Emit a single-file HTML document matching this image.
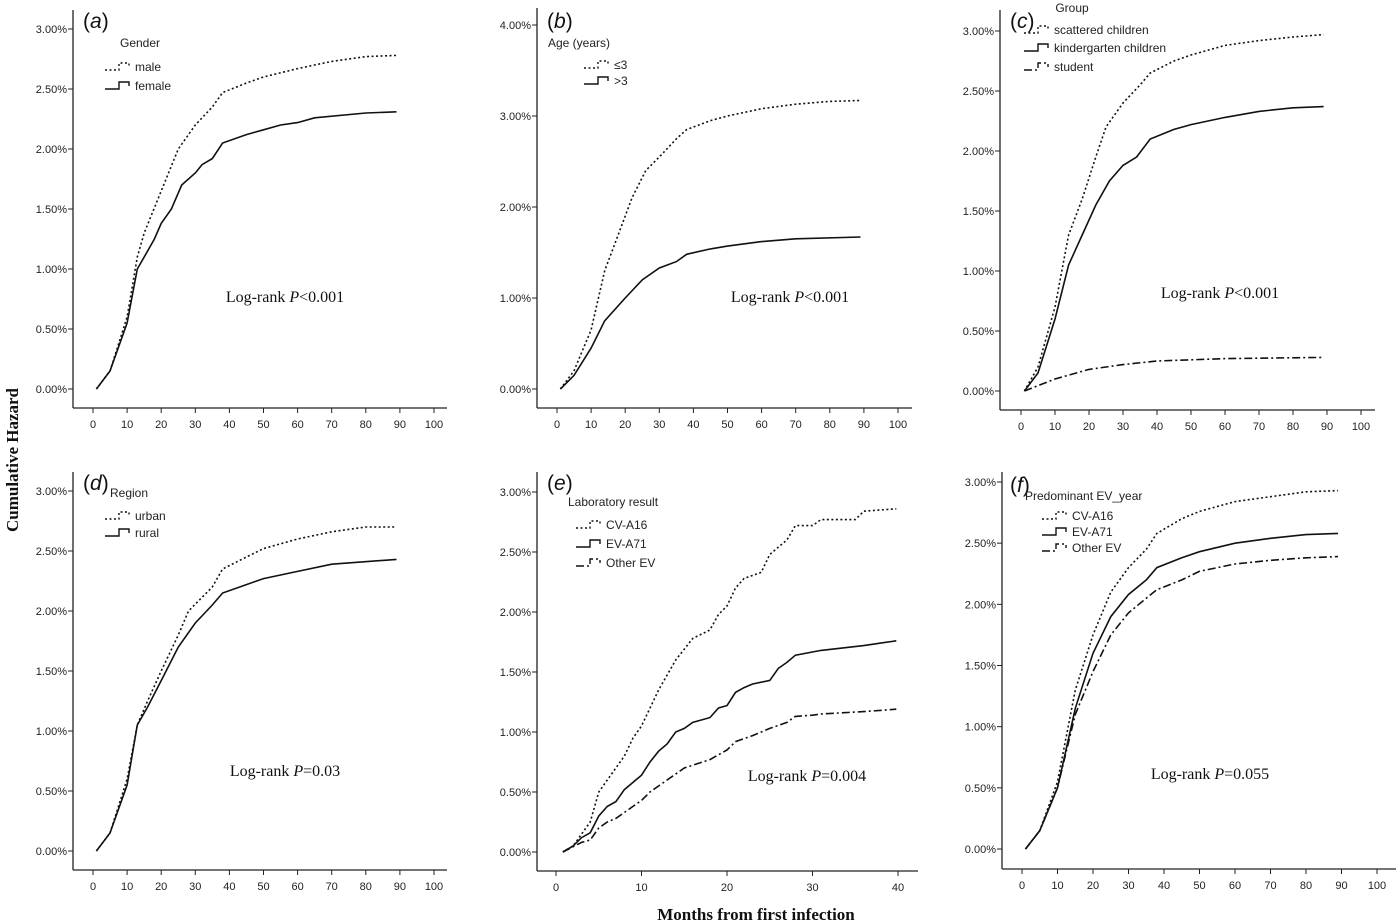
<!DOCTYPE html>
<html><head><meta charset="utf-8">
<style>
body{margin:0;background:#fff;}
svg{display:block;}
.tk{font-family:"Liberation Sans",sans-serif;font-size:11px;fill:#222;}
.lg{font-family:"Liberation Sans",sans-serif;font-size:12px;fill:#222;}
.lr{font-family:"Liberation Serif",serif;font-size:16px;fill:#111;}
.pl{font-family:"Liberation Sans",sans-serif;font-size:21px;fill:#111;}
.ttl{font-family:"Liberation Serif",serif;font-size:17px;font-weight:bold;fill:#111;}
</style></head>
<body>
<svg id="chart" width="1400" height="922" viewBox="0 0 1400 922">
<text class="ttl" x="756" y="920" text-anchor="middle">Months from first infection</text>
<text class="ttl" transform="translate(18,460) rotate(-90)" text-anchor="middle">Cumulative Hazard</text>
</svg>
<script>
// ---- data (x = months, y = cumulative hazard %) ----
const aMaleX=[1,5,10,13,15,20,25,30,35,38,45,50,60,70,80,89];
const aMaleY=[0,0.15,0.6,1.1,1.3,1.65,2.0,2.2,2.35,2.47,2.55,2.6,2.67,2.73,2.77,2.78];
const aFemaleX=[1,5,10,13,15,18,20,23,26,30,32,35,38,45,50,55,60,65,80,89];
const aFemaleY=[0,0.15,0.55,1.0,1.1,1.25,1.38,1.5,1.7,1.8,1.87,1.92,2.05,2.12,2.16,2.2,2.22,2.26,2.3,2.31];
const bLe3X=[1,5,10,14,18,22,26,30,35,38,45,50,60,70,80,89];
const bLe3Y=[0,0.2,0.65,1.3,1.7,2.1,2.4,2.55,2.75,2.85,2.95,3.0,3.08,3.13,3.16,3.17];
const bGt3X=[1,5,10,14,20,25,30,35,38,45,50,60,70,89];
const bGt3Y=[0,0.15,0.45,0.75,1.0,1.2,1.33,1.4,1.48,1.54,1.57,1.62,1.65,1.67];
const cScatX=[1,5,10,14,18,22,25,30,35,38,45,50,60,70,80,89];
const cScatY=[0,0.2,0.7,1.3,1.6,1.95,2.2,2.4,2.55,2.65,2.75,2.8,2.88,2.92,2.95,2.97];
const cKindX=[1,5,10,14,18,22,26,30,34,38,45,50,60,70,80,89];
const cKindY=[0,0.15,0.6,1.05,1.3,1.55,1.75,1.88,1.95,2.1,2.18,2.22,2.28,2.33,2.36,2.37];
const cStudX=[1,10,20,30,40,60,89];
const cStudY=[0,0.1,0.18,0.22,0.25,0.27,0.28];
const dUrbX=[1,5,10,13,16,20,25,28,35,38,45,50,60,70,80,89];
const dUrbY=[0,0.15,0.6,1.05,1.25,1.5,1.8,2.0,2.2,2.35,2.45,2.52,2.6,2.66,2.7,2.7];
const dRurX=[1,5,10,13,16,20,25,30,35,38,45,50,60,70,89];
const dRurY=[0,0.15,0.55,1.05,1.2,1.42,1.7,1.9,2.05,2.15,2.22,2.27,2.33,2.39,2.43];
const eA16X=[0.8,2,3,4,5,6,8,9,10,12,14,16,18,19,20,21,22,24,25,27,28,30,31,35,36,39.8];
const eA16Y=[0,0.05,0.15,0.25,0.5,0.6,0.8,0.95,1.05,1.35,1.6,1.78,1.85,1.98,2.05,2.2,2.28,2.33,2.48,2.6,2.72,2.72,2.77,2.77,2.84,2.86];
const eA71X=[0.8,2,3,4,5,6,7,8,9,10,11,12,13,14,15,16,18,19,20,21,22,23,25,26,27,28,31,36,39.8];
const eA71Y=[0,0.05,0.12,0.16,0.3,0.38,0.42,0.52,0.58,0.64,0.75,0.84,0.9,1.0,1.03,1.08,1.12,1.2,1.22,1.33,1.37,1.4,1.43,1.53,1.58,1.64,1.68,1.72,1.76];
const eOthX=[0.8,3,4,5,6,7,9,10,11,13,15,18,20,21,23,25,27,28,30,31,36,39.8];
const eOthY=[0,0.08,0.1,0.2,0.25,0.28,0.38,0.43,0.5,0.6,0.7,0.77,0.85,0.92,0.97,1.03,1.08,1.13,1.14,1.15,1.17,1.19];
const fA16X=[1,5,10,15,20,25,30,35,38,45,50,60,70,80,89];
const fA16Y=[0,0.15,0.55,1.3,1.75,2.1,2.3,2.45,2.58,2.7,2.76,2.84,2.88,2.92,2.93];
const fA71X=[1,5,10,15,20,25,30,35,38,45,50,60,70,80,89];
const fA71Y=[0,0.15,0.5,1.15,1.6,1.9,2.08,2.2,2.3,2.38,2.43,2.5,2.54,2.57,2.58];
const fOthX=[1,5,10,15,20,25,30,35,38,45,50,60,70,80,89];
const fOthY=[0,0.15,0.5,1.1,1.45,1.75,1.93,2.05,2.12,2.2,2.27,2.33,2.36,2.38,2.39];
const xTicks100=[0,10,20,30,40,50,60,70,80,90,100];
const xTicks40=[0,10,20,30,40];
const yTicks3=[0,0.5,1,1.5,2,2.5,3];
const yTicks4=[0,1,2,3,4];

const NS='http://www.w3.org/2000/svg';
const svg=document.getElementById('chart');
function mk(tag,attrs,parent){const e=document.createElementNS(NS,tag);for(const k in attrs)e.setAttribute(k,attrs[k]);(parent||svg).appendChild(e);return e;}
const DASH={dot:'2,2.5',solid:'',dashdot:'8,3,2,3'};

function panel(p){
  const g=mk('g',{});
  
  
  const sx=v=>p.x0+(v-p.xmin)*(p.x1-p.x0)/(p.xmax-p.xmin);
  const sy=v=>p.y0-(v)*(p.y0-p.y1)/(p.ymax);
  const ya=mk('line',{x1:p.ax,y1:p.axTop,x2:p.ax,y2:p.axY,stroke:'#222','stroke-width':1.3},g);
  
  const xa=mk('line',{x1:p.ax,y1:p.axY,x2:p.axRight,y2:p.axY,stroke:'#222','stroke-width':1.3},g);
  
  p.yTicks.forEach(v=>{
    mk('line',{x1:p.ax-5,x2:p.ax,y1:sy(v),y2:sy(v),stroke:'#222'},g);
    const t=mk('text',{class:'tk',x:p.ax-6,y:sy(v)+4,'text-anchor':'end','font-size':p.tf},g);
    t.textContent=v.toFixed(2)+'%';
    
  });
  p.xTicks.forEach(v=>{
    mk('line',{x1:sx(v),x2:sx(v),y1:p.axY,y2:p.axY+5,stroke:'#222'},g);
    const t=mk('text',{class:'tk',x:sx(v),y:p.axY+20,'text-anchor':'middle','font-size':p.tf},g);
    t.textContent=v;
    
  });
  p.series.forEach(s=>{
    const pts=s.x.map((v,i)=>sx(v).toFixed(1)+','+sy(s.y[i]).toFixed(1)).join(' ');
    const pl=mk('polyline',{points:pts,fill:'none',stroke:'#111','stroke-width':1.6,'stroke-dasharray':DASH[s.style]},g);
    
  });
  const lab=mk('text',{class:'pl',x:p.labX,y:p.labY},g);
  lab.innerHTML='(<tspan font-style="italic">'+p.id+'</tspan>)';
  
  const lt=mk('text',{class:'lg',x:p.lgTitleX,y:p.lgTitleY,'text-anchor':p.lgAnchor,'font-size':p.lf},g);
  lt.textContent=p.lgTitle;
  
  p.series.forEach((s,i)=>{
    const y=p.lgY[i];
    const ln=mk('polyline',{points:`${p.lgX},${y} ${p.lgX+14},${y} ${p.lgX+14},${y-7} ${p.lgX+24},${y-7} ${p.lgX+24},${y-3}`,fill:'none',stroke:'#111','stroke-width':1.4,'stroke-dasharray':DASH[s.style]},g);
    
    const t=mk('text',{class:'lg',x:p.lgX+30,y:y+1,'font-size':p.lf},g);
    t.textContent=s.label;
    
  });
  const lr=mk('text',{class:'lr',x:p.lrX,y:p.lrY,'text-anchor':'middle'},g);
  lr.innerHTML='Log-rank <tspan font-style="italic">P</tspan>'+p.lr;
  
}

const common100={xmin:0,xmax:100,xTicks:xTicks100,tf:11,lf:12};
panel(Object.assign({},common100,{id:'a',ax:73,axTop:10,axY:408,axRight:447,x0:93,x1:434,y0:389,y1:29,ymax:3,yTicks:yTicks3,
 series:[{name:'male',label:'male',style:'dot',x:aMaleX,y:aMaleY},{name:'female',label:'female',style:'solid',x:aFemaleX,y:aFemaleY}],
 labX:83,labY:28,lgTitle:'Gender',lgTitleX:140,lgTitleY:47,lgAnchor:'middle',lgX:105,lgY:[70,89],lrX:285,lrY:302,lr:'&lt;0.001'}));
panel(Object.assign({},common100,{id:'b',ax:537,axTop:8,axY:408,axRight:912,x0:557,x1:898,y0:389,y1:25,ymax:4,yTicks:yTicks4,
 series:[{name:'age-le-3',label:'≤3',style:'dot',x:bLe3X,y:bLe3Y},{name:'age-gt-3',label:'>3',style:'solid',x:bGt3X,y:bGt3Y}],
 labX:547,labY:28,lgTitle:'Age (years)',lgTitleX:548,lgTitleY:47,lgAnchor:'start',lgX:584,lgY:[68,84],lrX:790,lrY:302,lr:'&lt;0.001'}));
panel(Object.assign({},common100,{id:'c',ax:1000,axTop:10,axY:410,axRight:1375,x0:1021,x1:1361,y0:391,y1:31,ymax:3,yTicks:yTicks3,
 series:[{name:'scattered',label:'scattered children',style:'dot',x:cScatX,y:cScatY},{name:'kindergarten',label:'kindergarten children',style:'solid',x:cKindX,y:cKindY},{name:'student',label:'student',style:'dashdot',x:cStudX,y:cStudY}],
 labX:1010,labY:28,lgTitle:'Group',lgTitleX:1072,lgTitleY:12,lgAnchor:'middle',lgX:1024,lgY:[33,51,70],lrX:1220,lrY:298,lr:'&lt;0.001'}));
panel(Object.assign({},common100,{id:'d',ax:73,axTop:472,axY:870,axRight:447,x0:93,x1:434,y0:851,y1:491,ymax:3,yTicks:yTicks3,
 series:[{name:'urban',label:'urban',style:'dot',x:dUrbX,y:dUrbY},{name:'rural',label:'rural',style:'solid',x:dRurX,y:dRurY}],
 labX:83,labY:490,lgTitle:'Region',lgTitleX:110,lgTitleY:497,lgAnchor:'start',lgX:105,lgY:[519,536],lrX:285,lrY:776,lr:'=0.03'}));
panel({id:'e',xmin:0,xmax:40,xTicks:xTicks40,tf:11,lf:12,ax:537,axTop:472,axY:871,axRight:918,x0:556,x1:898,y0:852,y1:492,ymax:3,yTicks:yTicks3,
 series:[{name:'cv-a16',label:'CV-A16',style:'dot',x:eA16X,y:eA16Y},{name:'ev-a71',label:'EV-A71',style:'solid',x:eA71X,y:eA71Y},{name:'other-ev',label:'Other EV',style:'dashdot',x:eOthX,y:eOthY}],
 labX:547,labY:490,lgTitle:'Laboratory result',lgTitleX:568,lgTitleY:506,lgAnchor:'start',lgX:576,lgY:[528,547,566],lrX:807,lrY:781,lr:'=0.004'});
panel({id:'f',xmin:0,xmax:100,xTicks:xTicks100,tf:9.5,lf:10.5,ax:1002,axTop:472,axY:869,axRight:1396,x0:1022,x1:1377,y0:849,y1:482,ymax:3,yTicks:yTicks3,
 series:[{name:'cv-a16',label:'CV-A16',style:'dot',x:fA16X,y:fA16Y},{name:'ev-a71',label:'EV-A71',style:'solid',x:fA71X,y:fA71Y},{name:'other-ev',label:'Other EV',style:'dashdot',x:fOthX,y:fOthY}],
 labX:1010,labY:492,lgTitle:'Predominant EV_year',lgTitleX:1025,lgTitleY:500,lgAnchor:'start',lgX:1042,lgY:[519,535,551],lrX:1210,lrY:779,lr:'=0.055'});
</script>
</body></html>
